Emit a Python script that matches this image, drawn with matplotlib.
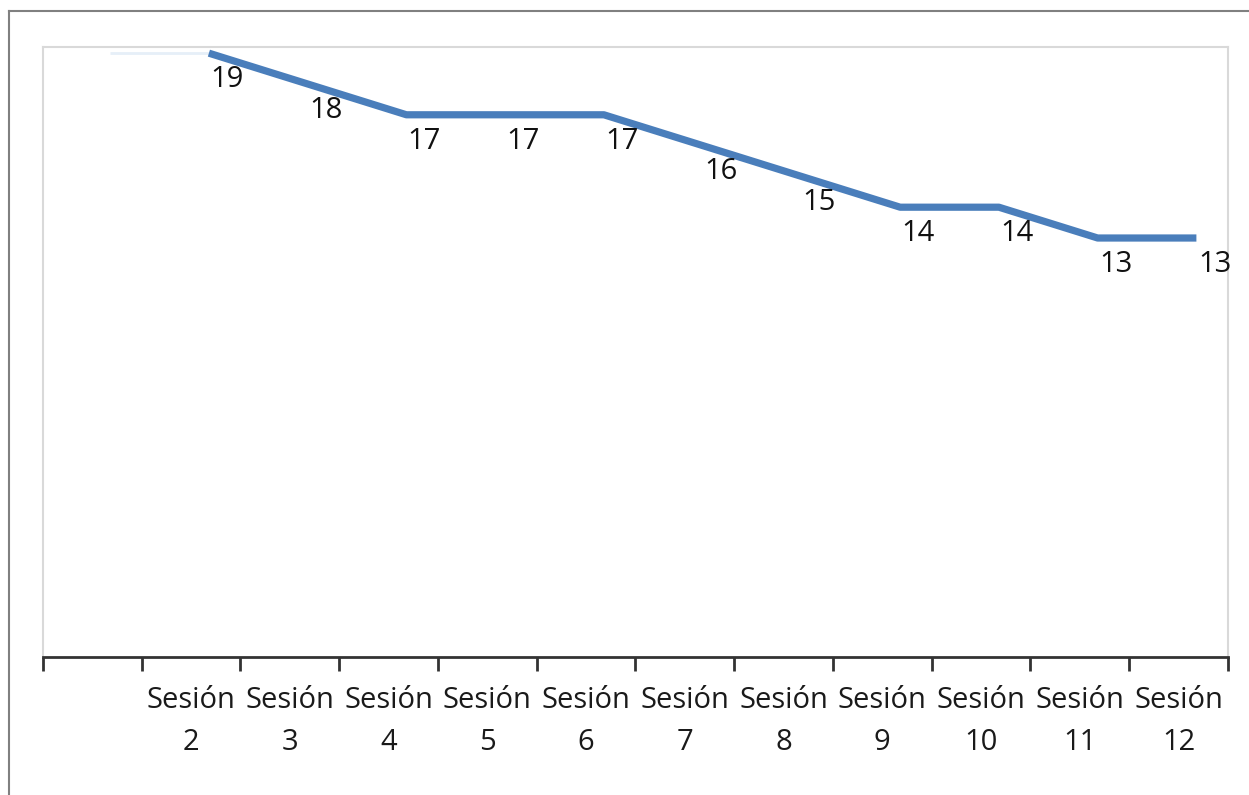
import matplotlib.pyplot as plt
from matplotlib.lines import Line2D
from matplotlib.ticker import FixedLocator

plt.rcParams['font.family'] = ['Open Sans', 'DejaVu Sans']

sessions = ['', 'Sesión\n2', 'Sesión\n3', 'Sesión\n4', 'Sesión\n5', 'Sesión\n6',
            'Sesión\n7', 'Sesión\n8', 'Sesión\n9', 'Sesión\n10', 'Sesión\n11', 'Sesión\n12']
values = [19, 19, 18, 17, 17, 17, 16, 15, 14, 14, 13, 13]
shown = [False, True, True, True, True, True, True, True, True, True, True, True]

blue = '#4a7ebb'

fig = plt.figure(figsize=(12.49, 7.95), dpi=100)
ax = fig.add_axes([43 / 1249, 1 - 657 / 795, (1228 - 43) / 1249, (657 - 47) / 795])

xs = [i + 1 for i in range(len(values))]
# points sit a bit right of the category centres in the original
shift = 0.18
px = [x + shift for x in xs]

ax.plot(px[:2], values[:2], color='#e6eff8', lw=2, solid_capstyle='butt', zorder=2)
ax.plot(px[1:], values[1:], color=blue, lw=5.2, solid_joinstyle='round',
        solid_capstyle='butt', zorder=3, clip_on=False)

for x, v, s in zip(px, values, shown):
    if s:
        ax.annotate(str(v), (x, v), xytext=(13, -19), textcoords='offset points',
                    ha='center', va='center', fontsize=21, color='#111111',
                    annotation_clip=False, zorder=4)

ax.set_xlim(0.5, 12.5)
ax.set_ylim(-0.6, 19.2)
ax.set_yticks([])

ax.xaxis.set_major_locator(FixedLocator(xs))
ax.set_xticklabels(sessions, fontsize=21, color='#1a1a1a', linespacing=1.6)
ax.xaxis.set_minor_locator(FixedLocator([x - 0.5 for x in xs] + [12.5]))
ax.tick_params(axis='x', which='major', length=0, pad=21)
ax.tick_params(axis='x', which='minor', length=10, width=2, color='#333333')

for side in ['top', 'left', 'right']:
    ax.spines[side].set_color('#d9d9d9')
    ax.spines[side].set_linewidth(1.5)
ax.spines['bottom'].set_color('#333333')
ax.spines['bottom'].set_linewidth(2)

# outer frame of the original picture (top and left edges)
fig.add_artist(Line2D([9 / 1249, 1], [1 - 11 / 795, 1 - 11 / 795], color='#808080', lw=1.5))
fig.add_artist(Line2D([9 / 1249, 9 / 1249], [0, 1 - 11 / 795], color='#808080', lw=1.5))

fig.savefig('out.png', dpi=100)
